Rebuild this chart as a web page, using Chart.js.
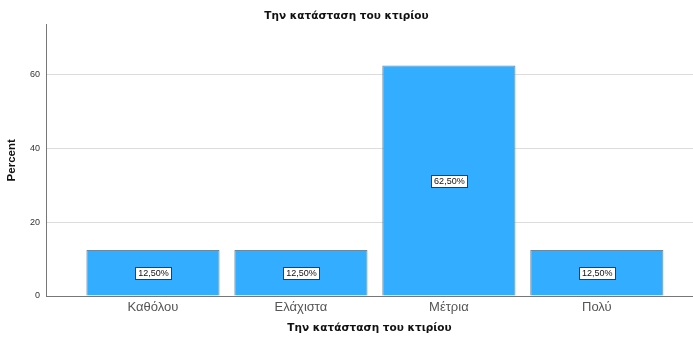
<!DOCTYPE html>
<html>
<head>
<meta charset="utf-8">
<script src="https://cdn.jsdelivr.net/npm/chart.js@4.4.1/dist/chart.umd.min.js"></script>
<style>
    html, body { margin: 0; padding: 0; background: #fff; }
    #wrap { width: 693px; height: 339px; }
</style>
</head>
<body>
<div id="wrap"><canvas id="barChart"></canvas></div>
<script>
const categories = ['Καθόλου', 'Ελάχιστα', 'Μέτρια', 'Πολύ'];
const percents = [12.5, 12.5, 62.5, 12.5];
const yTicks = [0, 20, 40, 60];
const titleText = 'Την κατάσταση του κτιρίου';

const barColor = 'rgb(51, 173, 255)';

// value boxes in the middle of each bar, e.g. "12,50%"
const valueBoxes = {
    id: 'valueBoxes',
    afterDatasetsDraw(chart) {
        const ctx = chart.ctx;
        const meta = chart.getDatasetMeta(0);
        ctx.save();
        ctx.font = '9px "Liberation Sans", Arial, sans-serif';
        ctx.textAlign = 'center';
        ctx.textBaseline = 'middle';
        meta.data.forEach((bar, i) => {
            const text = percents[i].toFixed(2).replace('.', ',') + '%';
            const cy = Math.round((bar.y + bar.base) / 2);
            const w = Math.round(ctx.measureText(text).width + 5);
            const h = 12;
            const x0 = Math.round(bar.x - w / 2);
            const y0 = cy - h / 2;
            ctx.fillStyle = '#fff';
            ctx.fillRect(x0, y0, w, h);
            ctx.strokeStyle = '#3a3a3a';
            ctx.lineWidth = 1;
            ctx.strokeRect(x0 + 0.5, y0 + 0.5, w, h);
            ctx.fillStyle = '#111';
            ctx.fillText(text, bar.x + 0.5, cy + 1);
        });
        ctx.restore();
    }
};

const data = {
    datasets: [{
        label: 'Percent',
        data: percents.map((v, i) => ({ x: i, y: v })),
        backgroundColor: barColor,
        borderColor: '#6a8aa0',
        borderWidth: 1,
        barPercentage: 0.9,
        categoryPercentage: 1
    }]
};

const config = {
    type: 'bar',
    data: data,
    options: {
        responsive: true,
        maintainAspectRatio: false,
        animation: false,
        layout: { padding: { left: 0, right: 0, top: 0, bottom: 0 } },
        plugins: {
            legend: { display: false },
            tooltip: { enabled: false },
            title: {
                display: true,
                text: titleText,
                color: '#111',
                font: { family: '"DejaVu Sans", sans-serif', size: 10.5, weight: 'bold' },
                padding: { top: 10, bottom: 2 }
            }
        },
        scales: {
            x: {
                type: 'linear',
                offset: false,
                min: -0.723,
                max: 3.65,
                afterBuildTicks: (scale) => {
                    scale.ticks = categories.map((c, i) => ({ value: i }));
                },
                afterFit: (scale) => { scale.height = 43; },
                ticks: {
                    callback: (value) => categories[value] ?? '',
                    color: '#555',
                    font: { family: '"Liberation Sans", Arial, sans-serif', size: 13 },
                    padding: 4,
                    maxRotation: 0,
                    autoSkip: false
                },
                grid: { display: false, drawTicks: false, offset: false },
                border: { display: true, color: '#777', width: 1 },
                title: {
                    display: true,
                    text: titleText,
                    color: '#111',
                    font: { family: '"DejaVu Sans", sans-serif', size: 10.5, weight: 'bold' },
                    padding: { top: 6, bottom: 4 }
                }
            },
            y: {
                min: 0,
                max: 73.6,
                afterBuildTicks: (scale) => {
                    scale.ticks = yTicks.map(v => ({ value: v }));
                },
                afterFit: (scale) => { scale.width = 46; },
                ticks: {
                    color: '#333',
                    font: { family: '"Liberation Sans", Arial, sans-serif', size: 9 },
                    padding: 6
                },
                grid: { color: '#dcdcdc', lineWidth: 1, drawTicks: false },
                border: { display: true, color: '#777', width: 1 },
                title: {
                    display: true,
                    text: 'Percent',
                    color: '#111',
                    font: { family: '"Liberation Sans", Arial, sans-serif', size: 11.5, weight: 'bold' },
                    padding: { top: 5, bottom: 4 }
                }
            }
        }
    },
    plugins: [valueBoxes]
};

window.onload = function () {
    const ctx = document.getElementById('barChart').getContext('2d');
    new Chart(ctx, config);
};
</script>
</body>
</html>
